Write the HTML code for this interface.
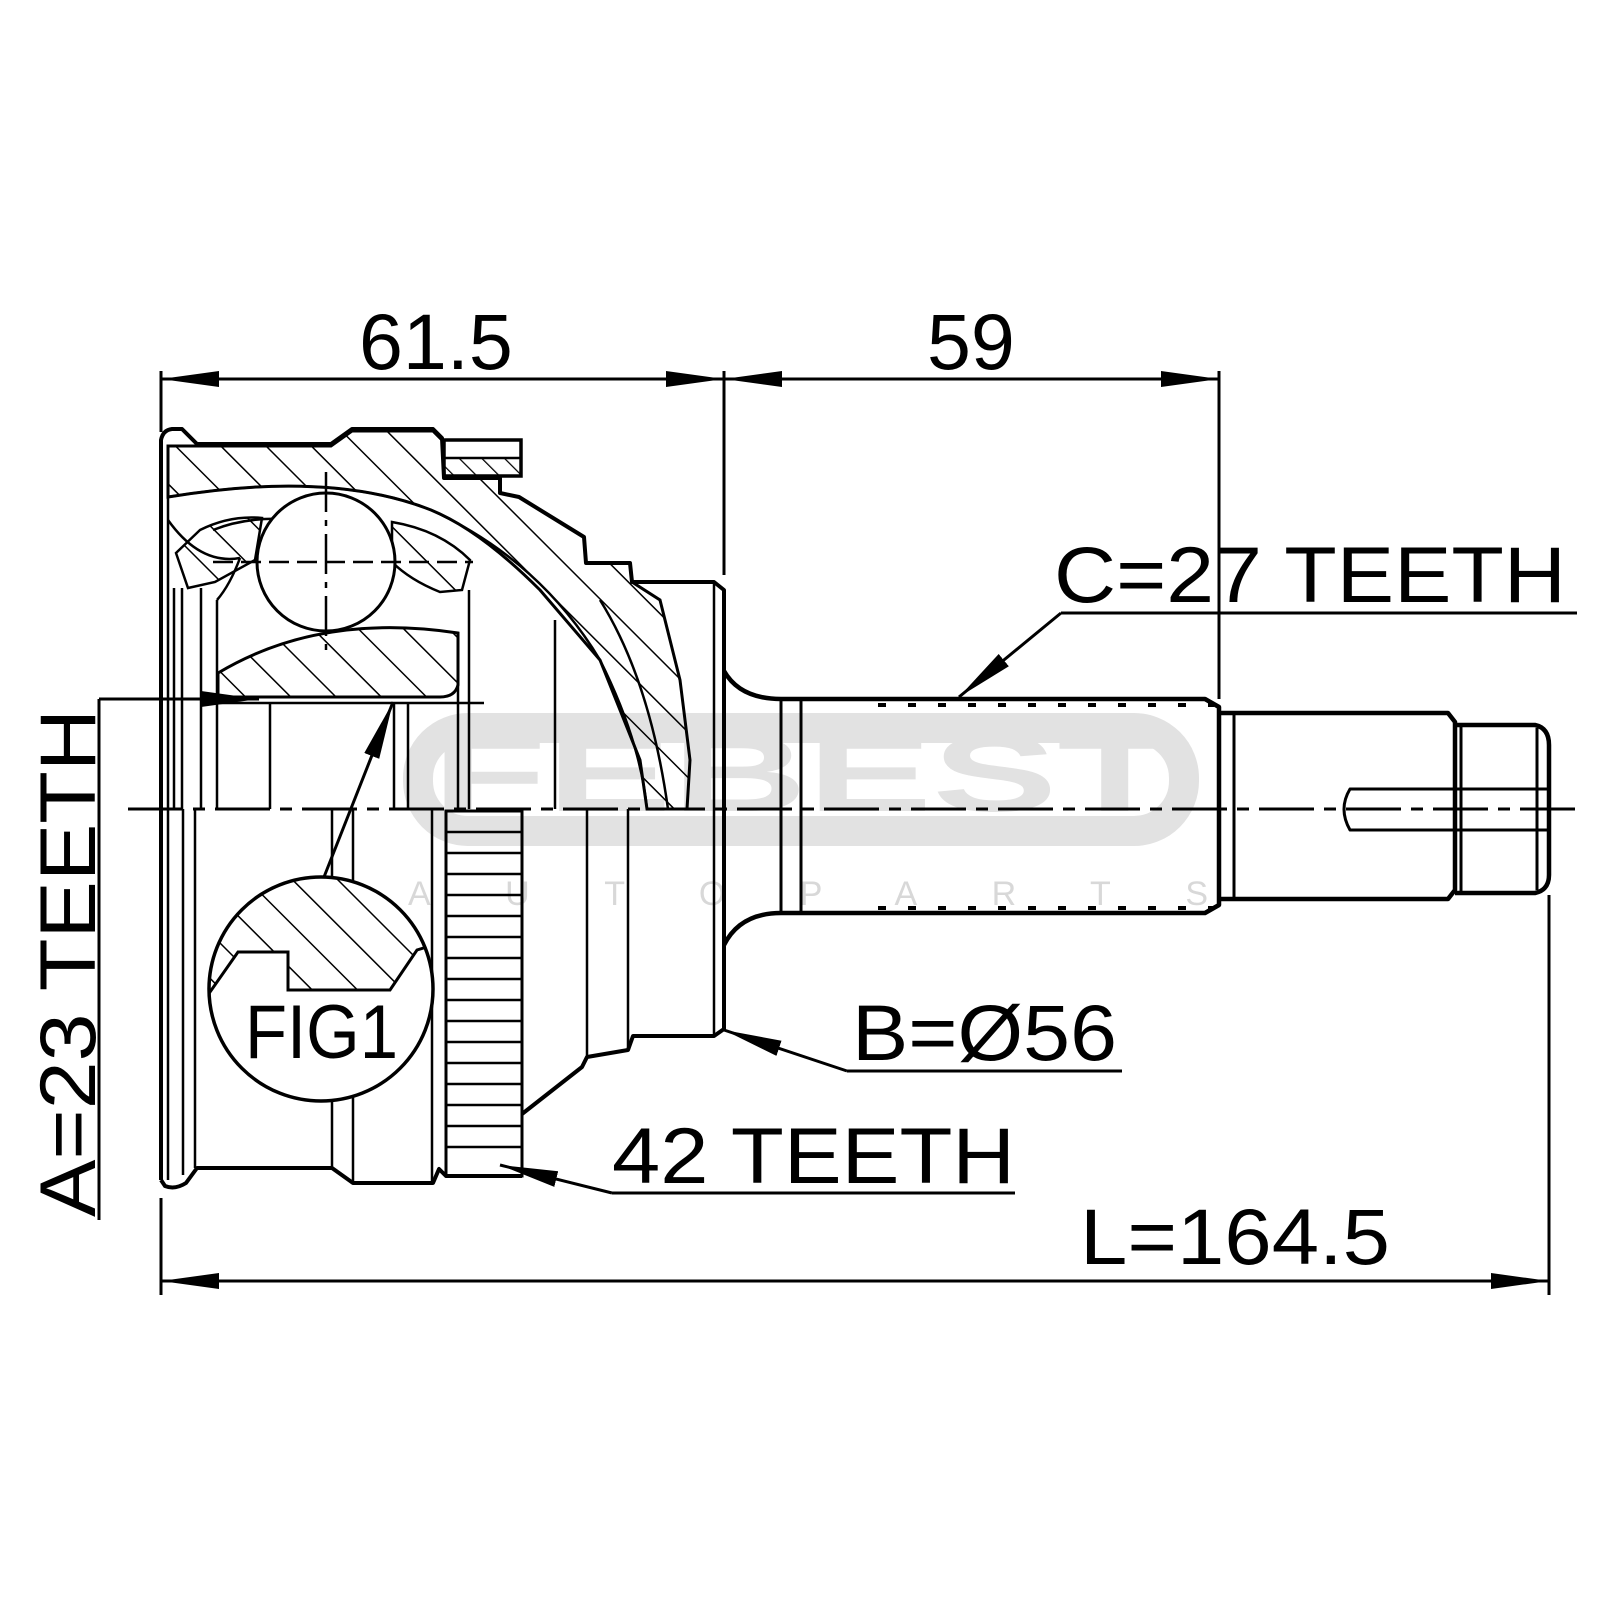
<!DOCTYPE html>
<html><head><meta charset="utf-8"><style>
html,body{margin:0;padding:0;background:#fff;}
svg{display:block;}
text{font-family:"Liberation Sans",Arial,sans-serif;fill:#000;}
</style></head><body>
<svg width="1600" height="1600" viewBox="0 0 1600 1600" xmlns="http://www.w3.org/2000/svg">
<defs>
<pattern id="h" patternUnits="userSpaceOnUse" width="32" height="32" patternTransform="rotate(-45)">
<line x1="0" y1="0" x2="0" y2="32" stroke="#000" stroke-width="3"/>
</pattern>
<pattern id="h2" patternUnits="userSpaceOnUse" width="16" height="16" patternTransform="rotate(-45)">
<line x1="0" y1="0" x2="0" y2="16" stroke="#000" stroke-width="2.5"/>
</pattern>
<marker id="a" markerWidth="60" markerHeight="20" refX="58" refY="10" orient="auto" markerUnits="userSpaceOnUse">
<path d="M0,2 L58,10 L0,18 Z" fill="#000"/>
</marker>
<clipPath id="c"><circle cx="321" cy="989" r="111"/></clipPath>
</defs>

<!-- watermark -->
<g>
<rect x="418" y="728" width="766" height="103" rx="50" fill="none" stroke="#e2e2e2" stroke-width="30"/>
<text x="432" y="811" font-size="108" font-weight="bold" textLength="740" lengthAdjust="spacingAndGlyphs" style="fill:#e2e2e2">FEBEST</text>
<text x="408" y="905" font-size="34" textLength="800" lengthAdjust="spacing" style="fill:#d8d8d8">AUTOPARTS</text>
</g>

<!-- dimension lines -->
<g stroke="#000" stroke-width="3" fill="none">
<line x1="161" y1="371" x2="161" y2="432"/>
<line x1="724" y1="371" x2="724" y2="575"/>
<line x1="1219" y1="371" x2="1219" y2="699"/>
<line x1="161" y1="379" x2="724" y2="379" marker-end="url(#a)"/>
<line x1="724" y1="379" x2="161" y2="379" marker-end="url(#a)"/>
<line x1="724" y1="379" x2="1219" y2="379" marker-end="url(#a)"/>
<line x1="1219" y1="379" x2="724" y2="379" marker-end="url(#a)"/>
<line x1="161" y1="1198" x2="161" y2="1295"/>
<line x1="1549" y1="895" x2="1549" y2="1295"/>
<line x1="161" y1="1281" x2="1549" y2="1281" marker-end="url(#a)"/>
<line x1="1549" y1="1281" x2="161" y2="1281" marker-end="url(#a)"/>
<line x1="99" y1="699" x2="99" y2="1220"/>
<line x1="99" y1="699" x2="259" y2="699" marker-end="url(#a)"/>
<line x1="1061" y1="613" x2="1577" y2="613"/>
<line x1="1061" y1="613" x2="959" y2="697" marker-end="url(#a)"/>
<line x1="847" y1="1071" x2="1122" y2="1071"/>
<line x1="847" y1="1071" x2="724" y2="1030" marker-end="url(#a)"/>
<line x1="612" y1="1193" x2="1015" y2="1193"/>
<line x1="612" y1="1193" x2="500" y2="1165" marker-end="url(#a)"/>
<line x1="324" y1="877" x2="393" y2="702" marker-end="url(#a)"/>
</g>

<!-- texts -->
<text x="359" y="369" font-size="79">61.5</text>
<text x="927" y="369" font-size="79">59</text>
<text x="1054" y="602" font-size="79" textLength="512" lengthAdjust="spacingAndGlyphs">C=27 TEETH</text>
<text x="852" y="1060" font-size="79" textLength="265" lengthAdjust="spacingAndGlyphs">B=Ø56</text>
<text x="612" y="1183" font-size="79" textLength="403" lengthAdjust="spacingAndGlyphs">42 TEETH</text>
<text x="1080" y="1264" font-size="79" textLength="310" lengthAdjust="spacingAndGlyphs">L=164.5</text>
<text transform="translate(95,1217) rotate(-90)" font-size="79" textLength="508" lengthAdjust="spacingAndGlyphs">A=23 TEETH</text>

<!-- housing hatched outer race -->
<path d="M168,446 L197,446 L331,446 L352,431 L433,431 L442,440 L444,478 L500,478 L500,493 L519,497 L584,537 L586,563 L630,563 L632,582 L660,600 L680,680 L690,760 L687,809 L647,809 L640,760 L600,660 L540,590 Q480,530 431,510 Q330,470 168,497 Z" fill="url(#h)" stroke="#000" stroke-width="3"/>
<path d="M176,553 L200,530 Q230,515 262,518 L255,560 L215,582 L188,588 Z" fill="url(#h)" stroke="#000" stroke-width="2.5"/>
<path d="M392,522 Q440,530 470,560 L462,590 L440,592 Q410,580 392,562 Z" fill="url(#h)" stroke="#000" stroke-width="2.5"/>
<path d="M218,673 Q320,612 458,633 L458,685 Q455,697 440,697 L218,697 Z" fill="url(#h)" stroke="#000" stroke-width="3"/>
<rect x="444" y="440" width="77" height="36" fill="#fff" stroke="#000" stroke-width="3.5"/>
<rect x="444" y="458" width="77" height="18" fill="url(#h2)" stroke="#000" stroke-width="2.5"/>

<g stroke="#000" stroke-width="4" fill="none" stroke-linejoin="round">
<path d="M161,1180 L161,440 Q163,430 172,429 L182,429 L197,444 L331,444 L352,429 L433,429 L442,438 L444,478 L500,478 L500,493 L519,497 L584,537 L586,563 L630,563 L632,582 L714,582 L724,590 L724,1029 L714,1036 L633,1036 L628,1050 L587,1057 L582,1067 L522,1114"/>
<path d="M522,1176 L446,1176 L439,1169 L433,1183 L353,1183 L332,1168 L197,1168 L186,1183 Q175,1190 165,1186 L161,1180"/>
<path d="M168,446 L168,1180" stroke-width="2.5"/>
</g>
<g stroke="#000" stroke-width="2.5" fill="none">
<path d="M168,497 Q330,470 431,510 Q540,560 600,660 Q640,740 647,809"/>
<path d="M168,520 Q200,565 240,558"/>
<path d="M213,530 Q250,515 300,520"/>
<path d="M600,600 Q650,680 668,809"/>
<path d="M174,588 L174,809 M182,588 L182,809 M201,588 L201,809 M217,600 L217,809"/>
<path d="M458,633 L458,809 M469,590 L469,809 M555,620 L555,809 M714,582 L714,1036"/>
<path d="M218,703 L484,703"/>
<path d="M270,703 L270,809 M394,703 L394,809 M408,703 L408,809"/>
<path d="M183,809 L183,1175 M195,809 L195,1168 M332,809 L332,1168 M353,809 L353,1183 M432,809 L432,1183"/>
<path d="M587,809 L587,1057 M628,809 L628,1050"/>
<path d="M217,600 Q230,585 240,558"/>
</g>
<g stroke="#000" stroke-width="3" fill="none">
<rect x="446" y="811" width="76" height="365"/>
<path d="M446,832H522M446,853H522M446,874H522M446,895H522M446,916H522M446,937H522M446,958H522M446,979H522M446,1000H522M446,1021H522M446,1042H522M446,1063H522M446,1084H522M446,1105H522M446,1126H522M446,1147H522" stroke-width="2.5"/>
</g>

<circle cx="326" cy="562" r="69" fill="#fff" stroke="#000" stroke-width="3"/>
<g stroke="#000" stroke-width="2.5">
<line x1="326" y1="472" x2="326" y2="658" stroke-dasharray="40,8,6,8"/>
<line x1="213" y1="562" x2="473" y2="562" stroke-dasharray="20,8"/>
</g>

<g stroke="#000" stroke-width="4.5" fill="none" stroke-linejoin="round">
<path d="M724,671 Q740,699 781,699 L1205,699 L1219,707 L1219,905 L1205,913 L781,913 Q740,913 724,945"/>
<line x1="781" y1="699" x2="781" y2="913" stroke-width="3"/>
<line x1="801" y1="699" x2="801" y2="913" stroke-width="3"/>
<path d="M1219,713 L1448,713 L1455,722 L1455,890 L1448,899 L1219,899"/>
<path d="M1455,725 L1535,725 Q1549,728 1549,745 L1549,875 Q1549,890 1535,893 L1455,893"/>
<line x1="1234" y1="713" x2="1234" y2="899" stroke-width="3"/>
<line x1="1461" y1="725" x2="1461" y2="893" stroke-width="3"/>
<line x1="1537" y1="728" x2="1537" y2="890" stroke-width="3"/>
<path d="M1549,789 L1350,789 Q1338,809 1350,830 L1549,830" stroke-width="3"/>
</g>
<g stroke="#000" stroke-width="4" stroke-dasharray="8,22">
<line x1="878" y1="705" x2="1214" y2="705"/>
<line x1="878" y1="908" x2="1214" y2="908"/>
</g>

<line x1="128" y1="809" x2="1577" y2="809" stroke="#000" stroke-width="3" stroke-dasharray="55,10,12,10"/>

<circle cx="321" cy="989" r="112" fill="#fff" stroke="#000" stroke-width="3.5"/>
<g clip-path="url(#c)">
<path d="M200,870 L450,870 L450,940 L417,950 L390,990 L288,990 L288,952 L238,952 L210,992 L200,992 Z" fill="url(#h)" stroke="#000" stroke-width="3"/>
</g>
<text x="245" y="1058" font-size="76" textLength="153" lengthAdjust="spacingAndGlyphs">FIG1</text>
</svg>
</body></html>
